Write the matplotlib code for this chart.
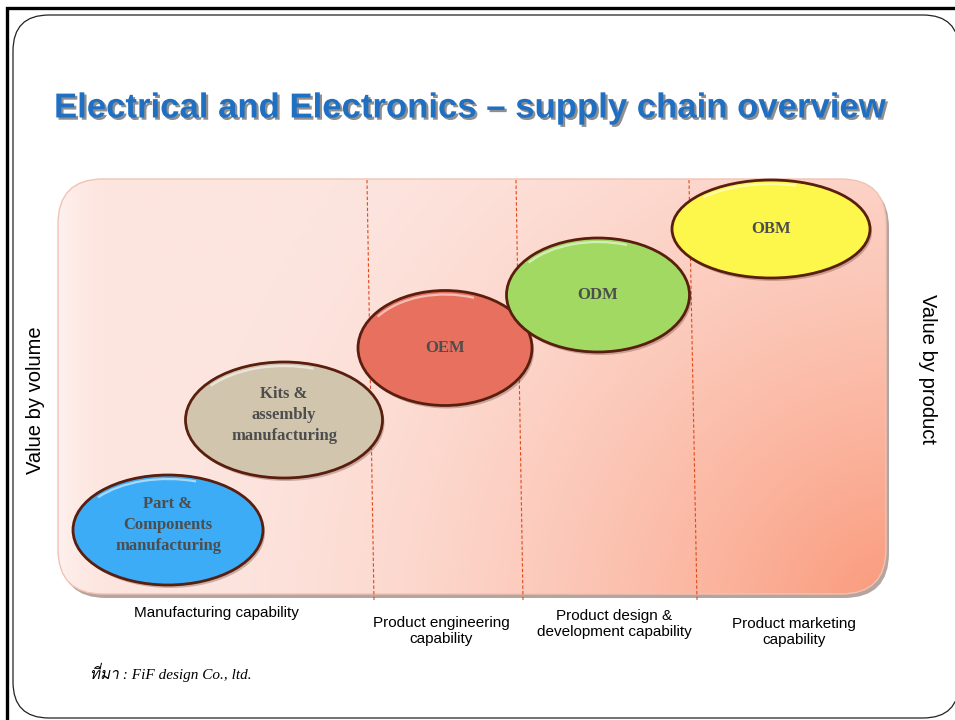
import numpy as np
import matplotlib
matplotlib.use("Agg")
import matplotlib.pyplot as plt
from matplotlib.patches import FancyBboxPatch, Ellipse, Rectangle, Arc
from matplotlib import font_manager
import matplotlib.patheffects as pe


TITLE = "Electrical and Electronics \u2013 supply chain overview"
LEFT_LABEL = "Value by volume"
RIGHT_LABEL = "Value by product"
SOURCE = "\u0e17\u0e35\u0e48\u0e21\u0e32 : FiF design Co., ltd."

# supply chain stages, lowest to highest value
STAGES = ["Part &\nComponents\nmanufacturing",
          "Kits &\nassembly\nmanufacturing",
          "OEM", "ODM", "OBM"]
STAGE_COLORS = ["#3cacf6", "#d1c5ae", "#e8705f", "#a2d962", "#fdf74c"]
# stage layout in pixel space (centre x, centre y, width, height)
STAGE_X = [168, 284, 445, 598, 771]
STAGE_Y = [530, 420, 348, 295, 229]
STAGE_W = [190, 197, 174, 183, 198]
STAGE_H = [110, 116, 115, 114, 98]

CAPABILITIES = ["Manufacturing capability",
                "Product engineering\ncapability",
                "Product design &\ndevelopment capability",
                "Product marketing\ncapability"]
CAP_X = [216, 441, 614, 794]
CAP_Y = [613, 631, 624, 632]

# dashed boundaries between capability zones (top x, bottom x)
DIVIDER_TOP = [367, 516, 689]
DIVIDER_BOTTOM = [374, 523, 697]

PANEL = (58, 179, 828, 415)


def find_thai_font():
    try:
        from fontTools.ttLib import TTFont
    except ImportError:
        return "DejaVu Sans"
    for f in font_manager.fontManager.ttflist:
        try:
            tt = TTFont(f.fname, fontNumber=0, lazy=True)
            cmap = tt.getBestCmap()
            if cmap and 0x0E17 in cmap and 0x0E21 in cmap:
                return f.name
        except Exception:
            continue
    return "DejaVu Sans"


def draw_panel(ax):
    x0, y0, w, h = PANEL
    shadow = FancyBboxPatch((x0 + 3, y0 + 4), w, h,
                            boxstyle="round,pad=0,rounding_size=45",
                            facecolor="#7a5a50", edgecolor="none", alpha=0.55, zorder=1)
    ax.add_patch(shadow)
    box = FancyBboxPatch((x0, y0), w, h,
                         boxstyle="round,pad=0,rounding_size=45",
                         facecolor="none", edgecolor="#f2c2b4", linewidth=1.0, zorder=3)
    ax.add_patch(box)

    # gradient: pale pink overall, salmon toward the bottom-right corner
    xs = np.linspace(x0, x0 + w, 400)
    ys = np.linspace(y0, y0 + h, 220)
    gx, gy = np.meshgrid(xs, ys)
    d = np.hypot(gx - (x0 + w + 20), gy - (y0 + h + 30))
    t = np.clip(1 - d / 720.0, 0, 1) ** 1.5
    far = np.array([253, 229, 223]) / 255.0
    near = np.array([250, 150, 118]) / 255.0
    img = far[None, None, :] + (near - far)[None, None, :] * t[..., None]
    # soft white highlight along left edge
    edge = np.clip(1 - (gx - x0) / 60.0, 0, 1) ** 2 * 0.45
    img = img + (1 - img) * edge[..., None]
    im = ax.imshow(img, extent=(x0, x0 + w, y0 + h, y0), origin="upper",
                   zorder=2, interpolation="bilinear")
    im.set_clip_path(box)


def main():
    fig = plt.figure(figsize=(9.55, 7.2), dpi=100)
    ax = fig.add_axes([0, 0, 1, 1])
    ax.set_xlim(0, 955)
    ax.set_ylim(720, 0)
    ax.axis("off")

    # slide frames
    ax.add_patch(Rectangle((7, 8), 960, 720, facecolor="white",
                           edgecolor="black", linewidth=2.4, zorder=0))
    ax.add_patch(FancyBboxPatch((13, 15), 946, 703,
                                boxstyle="round,pad=0,rounding_size=36",
                                facecolor="white", edgecolor="#222222",
                                linewidth=0.9, zorder=0.5))

    ax.text(470, 108, TITLE, ha="center", va="center", fontsize=25,
            fontweight="bold", family="Liberation Sans", color="#1f6fc2",
            path_effects=[pe.withSimplePatchShadow(offset=(1.6, -1.6),
                                                   shadow_rgbFace="#333333", alpha=0.55)],
            zorder=5)

    draw_panel(ax)

    for xt, xb in zip(DIVIDER_TOP, DIVIDER_BOTTOM):
        ax.plot([xt, xb], [180, 600], color="#e04a1a", linewidth=0.8,
                linestyle=(0, (3, 2)), zorder=4)

    for label, color, cx, cy, w, h in zip(STAGES, STAGE_COLORS, STAGE_X,
                                          STAGE_Y, STAGE_W, STAGE_H):
        ax.add_patch(Ellipse((cx + 2, cy + 3), w, h, facecolor="#6a4a40",
                             edgecolor="none", alpha=0.35, zorder=5))
        ax.add_patch(Ellipse((cx, cy), w, h, facecolor=color,
                             edgecolor="#5a1e0e", linewidth=2.0, zorder=6))
        ax.add_patch(Arc((cx, cy), w - 8, h - 8, theta1=205, theta2=300,
                         color="white", linewidth=1.6, alpha=0.55, zorder=7))
        ty = cy - 5 if "\n" in label else cy
        ax.text(cx, ty, label, ha="center", va="center", fontsize=12,
                fontweight="bold", family="Liberation Serif", color="#4d4d4d",
                linespacing=1.45, zorder=8)

    ax.text(35, 400, LEFT_LABEL, rotation=90, ha="center", va="center",
            fontsize=14.5, family="Liberation Sans", color="black")
    ax.text(927, 369, RIGHT_LABEL, rotation=270, ha="center", va="center",
            fontsize=14.5, family="Liberation Sans", color="black")

    for label, cx, cy in zip(CAPABILITIES, CAP_X, CAP_Y):
        ax.text(cx, cy, label, ha="center", va="center", fontsize=11,
                family="Liberation Sans", color="black", linespacing=1.15)

    thai = find_thai_font()
    ax.text(90, 672, SOURCE, ha="left", va="center", fontsize=11,
            style="italic", family=["Liberation Serif", thai], color="black")

    fig.savefig("out.png", dpi=100)
    plt.close(fig)


if __name__ == "__main__":
    main()
